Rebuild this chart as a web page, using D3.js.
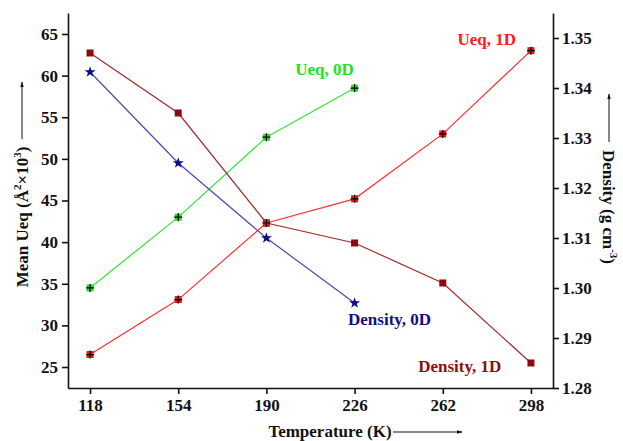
<!DOCTYPE html>
<html>
<head>
<meta charset="utf-8">
<script src="https://cdn.jsdelivr.net/npm/d3@7"></script>
<style>
  body { margin: 0; background: #fff; }
  svg text { font-family: "Liberation Serif", "Times New Roman", serif; font-weight: bold; }
</style>
</head>
<body>
<div id="chart"></div>
<script>
// data
const temps = [118, 154, 190, 226, 262, 298];
const ueq1D = [26.5, 33.1, 42.3, 45.2, 53.0, 63.0];
const ueq0D = [34.5, 43.0, 52.6, 58.5];
const dens0D = [1.3432, 1.3250, 1.3100, 1.2970];
const dens1D = [1.3470, 1.3350, 1.3130, 1.3090, 1.3010, 1.2850];
const leftTicks = [25, 30, 35, 40, 45, 50, 55, 60, 65];
const rightTicks = [1.28, 1.29, 1.30, 1.31, 1.32, 1.33, 1.34, 1.35];

const W = 623, H = 441;
const margin = { top: 13, right: 70, bottom: 53, left: 68 };
const width = W - margin.left - margin.right;
const height = H - margin.top - margin.bottom;

const svg = d3.select("#chart").append("svg")
    .attr("width", W)
    .attr("height", H);
const g = svg.append("g")
    .attr("transform", "translate(" + margin.left + "," + margin.top + ")");

const x = d3.scaleLinear().domain([109, 307]).range([0, width]);
const yL = d3.scaleLinear().domain([22.48, 67.52]).range([height, 0]);
const yR = d3.scaleLinear().domain([1.28, 1.355]).range([height, 0]);

// axes
const xAxis = g.append("g")
    .attr("transform", "translate(0," + height + ")")
    .call(d3.axisBottom(x).tickValues(temps).tickSize(6).tickPadding(5).tickSizeOuter(0));
const lAxis = g.append("g")
    .call(d3.axisLeft(yL).tickValues(leftTicks).tickSize(6).tickPadding(4).tickSizeOuter(0));
const rAxis = g.append("g")
    .attr("transform", "translate(" + width + ",0)")
    .call(d3.axisRight(yR).tickValues(rightTicks).tickFormat(d3.format(".2f")).tickSize(6).tickPadding(3).tickSizeOuter(0));

[xAxis, lAxis, rAxis].forEach(a => {
    a.selectAll("path, line").attr("stroke", "#111").attr("stroke-width", 1.6);
    a.selectAll("text").attr("fill", "#111").style("font-size", "17px");
});

// lines
function drawSeries(vals, yScale, lineColor) {
    const pts = vals.map((v, i) => [x(temps[i]), yScale(v)]);
    g.append("path")
        .datum(pts)
        .attr("fill", "none")
        .attr("stroke", lineColor)
        .attr("stroke-width", 1.2)
        .attr("d", d3.line());
    return pts;
}

const p1 = drawSeries(ueq1D, yL, "#ff3030");
const p0 = drawSeries(ueq0D, yL, "#33e633");
const d0 = drawSeries(dens0D, yR, "#4a4aa8");
const d1 = drawSeries(dens1D, yR, "#a02a2a");

// markers
function squares(pts, fill, cross) {
    const s = 7;
    const m = g.append("g").selectAll("g").data(pts).enter().append("g")
        .attr("transform", d => "translate(" + d[0] + "," + d[1] + ")");
    m.append("rect")
        .attr("x", -s / 2).attr("y", -s / 2)
        .attr("width", s).attr("height", s)
        .attr("fill", fill);
    if (cross) {
        m.append("path")
            .attr("d", "M-4,0H4M0,-4V4")
            .attr("stroke", "#000")
            .attr("stroke-width", 1.2);
    }
}
squares(d1, "#8b0a0a", false);
squares(p0, "#22dd22", true);
squares(p1, "#ee1111", true);

g.append("g").selectAll("path").data(d0).enter().append("path")
    .attr("d", d3.symbol(d3.symbolStar, 38))
    .attr("transform", d => "translate(" + d[0] + "," + d[1] + ")")
    .attr("fill", "#0a0a88");

// series labels
const labels = [
    { text: "Ueq, 1D", color: "#ff1a1a", t: 262, v: 63.68, dx: 44 },
    { text: "Ueq, 0D", color: "#22e022", t: 226, v: 60.07, dx: -30 },
    { text: "Density, 0D", color: "#101080", t: 226, v: 30.05, dx: 35 },
    { text: "Density, 1D", color: "#8b1010", t: 262, v: 24.4, dx: 17 }
];
g.append("g").selectAll("text").data(labels).enter().append("text")
    .attr("x", d => x(d.t) + d.dx)
    .attr("y", d => yL(d.v))
    .attr("text-anchor", "middle")
    .attr("fill", d => d.color)
    .style("font-size", "17px")
    .text(d => d.text);

// axis titles with arrows
svg.append("defs").append("marker")
    .attr("id", "arr")
    .attr("viewBox", "0 0 10 10")
    .attr("refX", 9).attr("refY", 5)
    .attr("markerWidth", 6).attr("markerHeight", 6)
    .attr("orient", "auto")
    .append("path").attr("d", "M0,2L10,5L0,8Z").attr("fill", "#111");

svg.append("text")
    .attr("x", 330).attr("y", 437)
    .attr("text-anchor", "middle")
    .attr("fill", "#111")
    .style("font-size", "17px")
    .text("Temperature (K)");
svg.append("line")
    .attr("x1", 393).attr("y1", 432).attr("x2", 462).attr("y2", 432)
    .attr("stroke", "#111").attr("stroke-width", 1)
    .attr("marker-end", "url(#arr)");

const lt = svg.append("text")
    .attr("transform", "translate(28,217) rotate(-90)")
    .attr("text-anchor", "middle")
    .attr("fill", "#111")
    .style("font-size", "17px");
lt.append("tspan").text("Mean Ueq (Å");
lt.append("tspan").attr("dy", -7).style("font-size", "11px").text("2");
lt.append("tspan").attr("dy", 7).text("×10");
lt.append("tspan").attr("dy", -7).style("font-size", "11px").text("3");
lt.append("tspan").attr("dy", 7).text(")");
svg.append("line")
    .attr("x1", 22).attr("y1", 139).attr("x2", 22).attr("y2", 82)
    .attr("stroke", "#111").attr("stroke-width", 1)
    .attr("marker-end", "url(#arr)");

const rt = svg.append("text")
    .attr("transform", "translate(603,207) rotate(90)")
    .attr("text-anchor", "middle")
    .attr("fill", "#111")
    .style("font-size", "17px");
rt.append("tspan").text("Density (g cm");
rt.append("tspan").attr("dy", -7).style("font-size", "11px").text("-3");
rt.append("tspan").attr("dy", 7).text(")");
svg.append("line")
    .attr("x1", 609).attr("y1", 142).attr("x2", 609).attr("y2", 94)
    .attr("stroke", "#111").attr("stroke-width", 1)
    .attr("marker-end", "url(#arr)");
</script>
</body>
</html>
